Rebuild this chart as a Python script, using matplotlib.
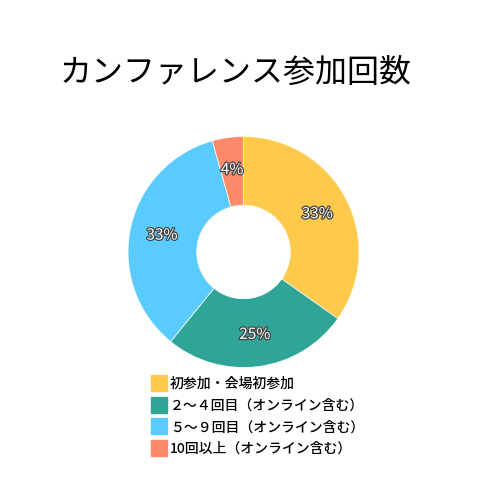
import matplotlib.pyplot as plt
import matplotlib.patheffects as pe
from matplotlib.lines import Line2D

plt.rcParams['font.family'] = ['Noto Sans CJK JP', 'DejaVu Sans']

# data
categories = ['初参加・会場初参加', '２～４回目（オンライン含む）',
              '５～９回目（オンライン含む）', '10回以上（オンライン含む）']
counts = [8, 6, 8, 1]
pct_labels = ['33%', '25%', '33%', '4%']
colors = ['#FFCA4B', '#2EA597', '#5ACBFF', '#FF8A6A']

fig = plt.figure(figsize=(5, 5), dpi=100)
fig.text(0.472, 0.855, 'カンファレンス参加回数', ha='center', va='center', fontsize=23)

ax = fig.add_axes([0.256, 0.265, 0.462, 0.462])
wedges, texts = ax.pie(counts, colors=colors, startangle=90, counterclock=False,
                       radius=1.0, labels=pct_labels, labeldistance=0.72,
                       wedgeprops=dict(width=0.595, edgecolor='white', linewidth=0.5),
                       textprops=dict(color='white', fontsize=11, ha='center', va='center'))
for t in texts:
    t.set_horizontalalignment('center')
    t.set_path_effects([pe.withStroke(linewidth=1.8, foreground='#444444')])
ax.set_xlim(-1, 1)
ax.set_ylim(-1, 1)
ax.set_aspect('equal')
ax.axis('off')

handles = [Line2D([], [], marker='s', linestyle='', markersize=11,
                  markerfacecolor=c, markeredgecolor=c) for c in colors]
fig.legend(handles, categories, loc='upper left', bbox_to_anchor=(0.29, 0.257),
           frameon=False, fontsize=10, handletextpad=0.2, labelspacing=0.55,
           handlelength=1.2, borderaxespad=0, prop=dict(weight='medium', size=10))

fig.savefig('out.png', dpi=100)
